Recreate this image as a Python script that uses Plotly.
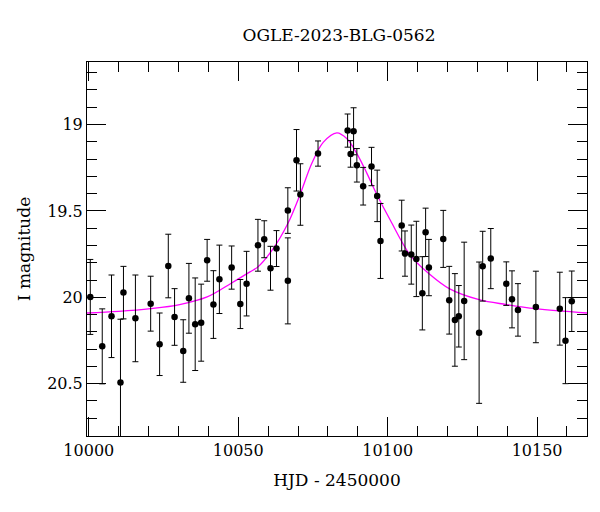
import plotly.graph_objects as go

# Observations (HJD - 2450000, I magnitude, error)
hjd = [10000.5, 10004.5, 10007.6, 10010.6, 10011.6, 10015.6, 10020.7, 10023.7,
       10026.6, 10028.7, 10031.6, 10033.5, 10035.6, 10037.6, 10039.6, 10041.7,
       10043.7, 10047.8, 10050.7, 10052.8, 10056.6, 10058.7, 10060.8, 10062.8,
       10066.6, 10066.6, 10069.5, 10070.8, 10076.7, 10086.6, 10087.6, 10088.6,
       10089.7, 10091.8, 10094.6, 10096.5, 10097.6, 10104.7, 10105.8, 10107.9,
       10109.6, 10111.6, 10112.7, 10113.8, 10118.6, 10120.6, 10122.5, 10123.8,
       10125.6, 10130.6, 10131.8, 10134.5, 10139.7, 10141.6, 10143.6, 10149.6,
       10157.6, 10159.5, 10161.6]
mag = [19.998, 20.284, 20.110, 20.494, 19.973, 20.122, 20.037, 20.272,
       19.819, 20.114, 20.311, 20.006, 20.156, 20.147, 19.786, 20.042,
       19.896, 19.828, 20.039, 19.921, 19.699, 19.664, 19.832, 19.718,
       19.498, 19.905, 19.207, 19.405, 19.168, 19.035, 19.170, 19.039,
       19.236, 19.357, 19.243, 19.413, 19.674, 19.585, 19.747, 19.753,
       19.778, 19.977, 19.624, 19.828, 19.662, 20.017, 20.131, 20.110,
       20.021, 20.205, 19.820, 19.776, 19.921, 20.012, 20.073, 20.056,
       20.066, 20.251, 20.023]
err = [0.217, 0.217, 0.239, 0.367, 0.152, 0.251, 0.159, 0.181,
       0.184, 0.164, 0.181, 0.202, 0.268, 0.223, 0.121, 0.196,
       0.198, 0.125, 0.142, 0.187, 0.150, 0.107, 0.127, 0.104,
       0.132, 0.249, 0.178, 0.178, 0.073, 0.096, 0.077, 0.136,
       0.097, 0.109, 0.111, 0.149, 0.217, 0.147, 0.131, 0.171,
       0.218, 0.212, 0.140, 0.163, 0.165, 0.196, 0.268, 0.178,
       0.340, 0.409, 0.202, 0.174, 0.126, 0.165, 0.152, 0.207,
       0.211, 0.249, 0.175]

# Model curve
model_t = [9999.4, 10010.0, 10020.7, 10030.4, 10039.6, 10047.8, 10053.9,
           10056.6, 10061.7, 10066.6, 10070.8, 10074.6, 10078.5, 10083.0,
           10086.3, 10089.7, 10093.1, 10096.5, 10100.9, 10107.6, 10113.8,
           10120.6, 10130.6, 10139.7, 10149.6, 10166.7]
model_m = [20.091, 20.082, 20.066, 20.042, 19.998, 19.917, 19.853,
           19.824, 19.718, 19.573, 19.400, 19.226, 19.102, 19.048,
           19.081, 19.168, 19.284, 19.409, 19.554, 19.757, 19.863,
           19.950, 20.014, 20.042, 20.066, 20.091]

x_ticks = [10000, 10050, 10100, 10150]
y_ticks = [19, 19.5, 20, 20.5]
y_tick_text = ["19", "19.5", "20", "20.5"]

FONT = "DejaVu Serif"

fig = go.Figure()
fig.add_trace(go.Scatter(
    x=model_t, y=model_m, mode="lines",
    line=dict(color="#ff00ff", width=1.3, shape="spline", smoothing=1.0),
    hoverinfo="skip", showlegend=False))
fig.add_trace(go.Scatter(
    x=hjd, y=mag, mode="markers",
    marker=dict(color="black", size=6.5),
    error_y=dict(type="data", array=err, visible=True, color="black",
                 thickness=1, width=3),
    showlegend=False))

axis_common = dict(
    showgrid=False, zeroline=False, showline=True, linecolor="black",
    linewidth=1, mirror="allticks", ticks="inside", tickcolor="black",
    tickwidth=1, ticklen=19,
    tickfont=dict(family=FONT, size=16, color="black"),
)

fig.update_xaxes(
    range=[9999.4, 10166.7], tickvals=x_ticks,
    ticktext=[str(v) for v in x_ticks],
    minor=dict(dtick=10, tick0=10000, ticks="inside", ticklen=10,
               tickcolor="black", tickwidth=1, showgrid=False),
    title=dict(text="HJD - 2450000", font=dict(family=FONT, size=17, color="black"),
               standoff=14),
    **axis_common)
fig.update_yaxes(
    range=[20.803, 18.638], tickvals=y_ticks, ticktext=y_tick_text,
    minor=dict(dtick=0.1, tick0=19, ticks="inside", ticklen=10,
               tickcolor="black", tickwidth=1, showgrid=False),
    title=dict(text="I magnitude", font=dict(family=FONT, size=17, color="black"),
               standoff=12),
    **axis_common)

fig.update_layout(
    width=600, height=512,
    margin=dict(l=87, r=13, t=62, b=76),
    paper_bgcolor="white", plot_bgcolor="white",
    title=dict(text="OGLE-2023-BLG-0562", x=0.565, xanchor="center",
               y=1 - 35 / 512, yanchor="middle",
               font=dict(family=FONT, size=17, color="black")),
)

fig.write_html("out.html")
